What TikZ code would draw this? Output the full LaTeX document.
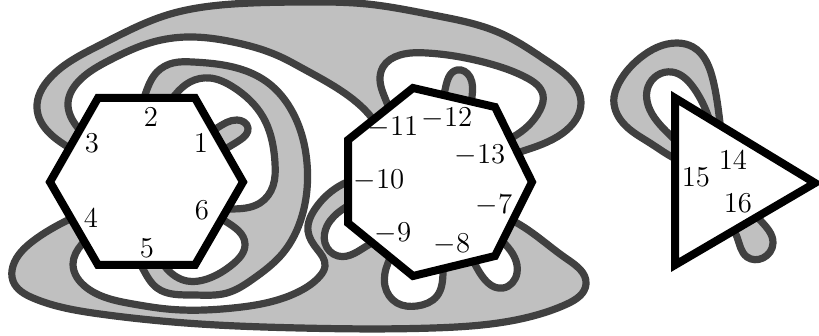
\documentclass[tikz,border=0pt]{standalone}
\usepackage{xcolor}
\definecolor{bandfill}{HTML}{C0C0C0}
\definecolor{bandline}{HTML}{404040}
\usepackage{tikz}
\usetikzlibrary{hobby}

\begin{document}
\begin{tikzpicture}[x=0.5pt,y=-0.5pt,
  band/.style={draw=bandline,fill=bandfill,line width=3.6pt,line join=round},
  poly/.style={draw=black,fill=white,line width=4pt,line join=miter},
  lab/.style={font=\fontsize{14}{16}\selectfont,inner sep=0pt}]
\useasboundingbox (0,0) rectangle (819,336);
% upper band
\draw[band] (82,155) to[curve through={(68,147) .. (37,108) .. (50,78) .. (100,45) .. (167,15) .. (233,4) .. (300,2) .. (367,4) .. (433,15) .. (500,33) .. (550,63) .. (581,103) .. (563,133) .. (520,152)}] (505,157)
  -- (500,143) to[curve through={(513,137) .. (540,110) .. (543,95) .. (527,78) .. (487,63) .. (427,53) .. (400,55) .. (383,67) .. (380,80) .. (387,103)}] (392,120)
  -- (380,130) to[curve through={(372,118) .. (340,90) .. (300,67) .. (283,58) .. (233,42) .. (187,37) .. (153,42) .. (110,60) .. (78,82) .. (68,103) .. (78,128)}] (90,140) -- cycle;
% loop at 1
\draw[band] (205,135) to[curve through={(217,128) .. (237,120) .. (248,128) .. (240,140) .. (227,148)}] (215,155) -- cycle;
% band through hexagon
\draw[band] (140,110) to[curve through={(145,95) .. (157,72) .. (173,63) .. (193,62) .. (233,67) .. (267,82) .. (293,113) .. (307,163) .. (302,216) .. (283,253) .. (253,279) .. (227,293) .. (193,295) .. (157,288) .. (143,269)}] (135,255)
  -- (158,255) to[curve through={(167,269) .. (187,281) .. (207,279) .. (233,264) .. (245,244) .. (225,221)}] (212,212)
  -- (218,209) to[curve through={(230,209) .. (260,203) .. (273,186) .. (275,163) .. (263,117) .. (233,87) .. (210,78) .. (190,82) .. (175,95)}] (165,110) -- cycle;
% lower band
\draw[band] (85,212) to[curve through={(70,219) .. (33,241) .. (13,266) .. (13,281) .. (33,298) .. (100,314) .. (200,324) .. (300,328) .. (433,328) .. (533,316) .. (567,304) .. (586,284) .. (567,259) .. (517,223)}] (500,215)
  -- (495,235) to[curve through={(505,244) .. (517,273) .. (503,288) .. (477,268)}] (470,255)
  -- (443,255) to[curve through={(443,273) .. (437,296) .. (417,306) .. (397,303) .. (385,286) .. (388,263)}] (395,250)
  -- (385,238) to[curve through={(370,244) .. (338,256) .. (325,243) .. (327,226) .. (343,209)}] (360,200)
  -- (360,178) to[curve through={(343,184) .. (315,209) .. (308,231) .. (317,249) .. (325,266) .. (320,276) .. (300,291) .. (233,308) .. (167,309) .. (133,304) .. (87,288) .. (73,264) .. (82,244)}] (95,232) -- cycle;
% lobe at -12
\draw[band] (440,105) to[curve through={(445,90) .. (457,70) .. (470,77) .. (472,97)}] (470,112) -- cycle;
% band at triangle
\draw[band] (690,165) to[curve through={(672,157) .. (650,143) .. (623,123) .. (614,97) .. (617,87) .. (640,58) .. (677,43) .. (693,47) .. (713,80) .. (720,123)}] (722,140)
  -- (712,128) to[curve through={(707,113) .. (693,87) .. (672,72) .. (648,87) .. (650,110) .. (672,137)}] (685,150) -- cycle;
\draw[band] (730,225) to[curve through={(737,237) .. (747,257) .. (763,258) .. (773,243) .. (760,220)}] (750,208) -- cycle;
% boundary polygons
\draw[poly] (98,98) -- (195,98) -- (243,182) -- (195,265) -- (98,265) -- (50,182) -- cycle;
\draw[poly] (413,88) -- (495,107) -- (532,182) -- (495,256) -- (413,276) -- (348,223) -- (348,140) -- cycle;
\draw[poly] (675,98) -- (815,183) -- (675,265) -- cycle;
\node[lab] (e1) at (201,143) {$1$};
\node[lab] (e2) at (151,117) {$2$};
\node[lab] (e3) at (92,143) {$3$};
\node[lab] (e4) at (91,218) {$4$};
\node[lab] (e5) at (147,248) {$5$};
\node[lab] (e6) at (202,210) {$6$};
\node[lab] (e7) at (494,205) {$-7$};
\node[lab] (e8) at (452,244) {$-8$};
\node[lab] (e9) at (393,233) {$-9$};
\node[lab] (e10) at (379,180) {$-10$};
\node[lab] (e11) at (393,127) {$-11$};
\node[lab] (e12) at (447,118) {$-12$};
\node[lab] (e13) at (480,155) {$-13$};
\node[lab] (e14) at (733,160) {$14$};
\node[lab] (e15) at (696,177) {$15$};
\node[lab] (e16) at (738,203) {$16$};
\end{tikzpicture}
\end{document}
